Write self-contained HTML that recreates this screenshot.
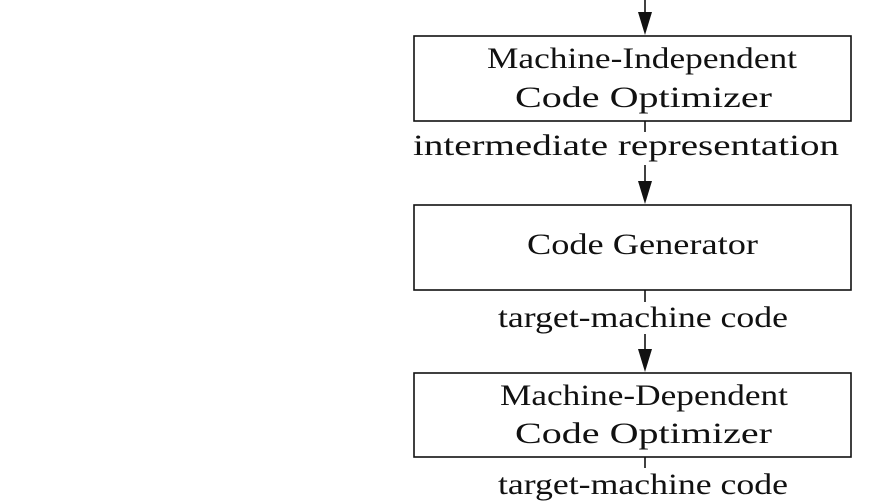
<!DOCTYPE html>
<html><head><meta charset="utf-8"><style>
html,body{margin:0;padding:0;background:#fff;width:884px;height:503px;overflow:hidden}
text{font-family:"Liberation Serif",serif;font-size:30px;fill:#111}
</style></head><body>
<svg width="884" height="503" viewBox="0 0 884 503">
<g stroke="#111" stroke-width="1.6" fill="none">
<line x1="645" y1="0" x2="645" y2="20"/>
<rect x="414" y="36" width="437" height="85"/>
<line x1="645" y1="121" x2="645" y2="132"/>
<line x1="645" y1="165" x2="645" y2="188"/>
<rect x="414" y="205" width="437" height="85"/>
<line x1="645" y1="290" x2="645" y2="302"/>
<line x1="645" y1="334" x2="645" y2="356"/>
<rect x="414" y="373" width="437" height="84"/>
<line x1="645" y1="457" x2="645" y2="468"/>
</g>
<g fill="#111">
<polygon points="638,12 652,12 645,35"/>
<polygon points="638,181 652,181 645,204"/>
<polygon points="638,349 652,349 645,372"/>
</g>
<text x="487" y="68" textLength="310" lengthAdjust="spacingAndGlyphs">Machine-Independent</text>
<text x="515" y="107" textLength="257" lengthAdjust="spacingAndGlyphs">Code Optimizer</text>
<text x="413" y="155" textLength="426" lengthAdjust="spacingAndGlyphs">intermediate representation</text>
<text x="527" y="254" textLength="231" lengthAdjust="spacingAndGlyphs">Code Generator</text>
<text x="498" y="327" textLength="290" lengthAdjust="spacingAndGlyphs">target-machine code</text>
<text x="500" y="405" textLength="288" lengthAdjust="spacingAndGlyphs">Machine-Dependent</text>
<text x="515" y="443" textLength="257" lengthAdjust="spacingAndGlyphs">Code Optimizer</text>
<text x="498" y="494" textLength="290" lengthAdjust="spacingAndGlyphs">target-machine code</text>
</svg>
</body></html>
